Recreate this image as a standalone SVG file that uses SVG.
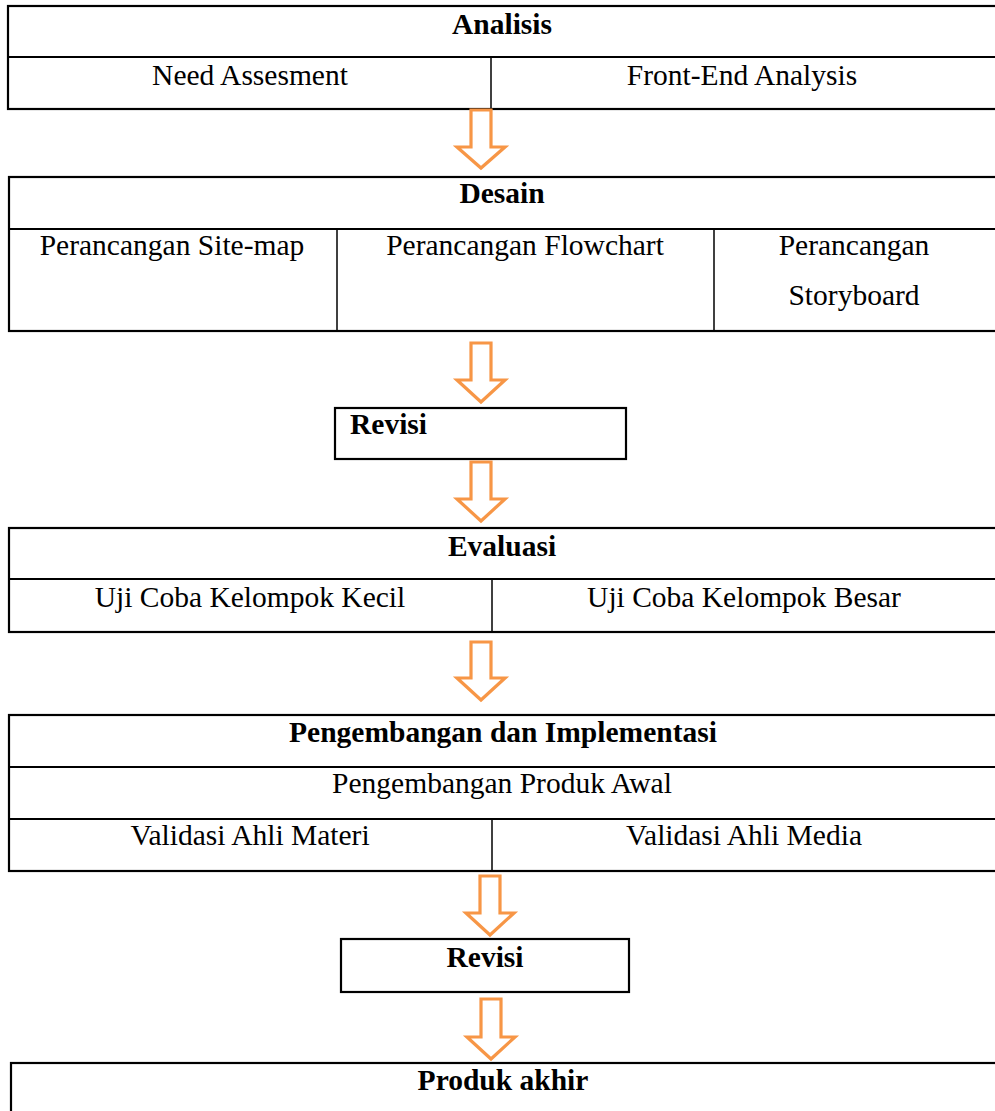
<svg xmlns="http://www.w3.org/2000/svg" width="995" height="1111" viewBox="0 0 995 1111">
<style>
.box{fill:#fff;stroke:#000;stroke-width:2.2}
.ln{stroke:#000;stroke-width:2.2;fill:none}
.vl{stroke:#000;stroke-width:1.5;fill:none}
.t{font-family:"Liberation Serif","Times New Roman",serif;font-size:29.5px;fill:#000;text-anchor:middle}
.b{font-weight:bold}
.arr{fill:#fff;stroke:#F79646;stroke-width:3.2;stroke-linejoin:miter}
</style>
<rect width="995" height="1111" fill="#fff"/>
<g id="analisis">
<rect class="box" x="8" y="6" width="1000" height="103"/>
<line class="ln" x1="8" y1="57" x2="1000" y2="57"/>
<line class="vl" x1="491" y1="57" x2="491" y2="109"/>
<text class="t b" x="502" y="34">Analisis</text>
<text class="t" x="250" y="85">Need Assesment</text>
<text class="t" x="742" y="85">Front-End Analysis</text>
</g>
<g id="desain">
<rect class="box" x="9" y="177" width="1000" height="154"/>
<line class="ln" x1="9" y1="229" x2="1000" y2="229"/>
<line class="vl" x1="337" y1="229" x2="337" y2="331"/>
<line class="vl" x1="714" y1="229" x2="714" y2="331"/>
<text class="t b" x="502" y="203">Desain</text>
<text class="t" x="172" y="255">Perancangan Site-map</text>
<text class="t" x="525" y="255">Perancangan Flowchart</text>
<text class="t" x="854" y="255">Perancangan</text>
<text class="t" x="854" y="305">Storyboard</text>
</g>
<g id="revisi1">
<rect class="box" x="335" y="408" width="291" height="51"/>
<text class="t b" x="350" y="434" style="text-anchor:start">Revisi</text>
</g>
<g id="evaluasi">
<rect class="box" x="9" y="528" width="1000" height="104"/>
<line class="ln" x1="9" y1="579" x2="1000" y2="579"/>
<line class="vl" x1="492" y1="579" x2="492" y2="632"/>
<text class="t b" x="502" y="556">Evaluasi</text>
<text class="t" x="250" y="607">Uji Coba Kelompok Kecil</text>
<text class="t" x="744" y="607">Uji Coba Kelompok Besar</text>
</g>
<g id="pengembangan">
<rect class="box" x="9" y="715" width="1000" height="156"/>
<line class="ln" x1="9" y1="767" x2="1000" y2="767"/>
<line class="ln" x1="9" y1="819" x2="1000" y2="819"/>
<line class="vl" x1="492" y1="819" x2="492" y2="871"/>
<text class="t b" x="503" y="742">Pengembangan dan Implementasi</text>
<text class="t" x="502" y="793">Pengembangan Produk Awal</text>
<text class="t" x="250" y="845">Validasi Ahli Materi</text>
<text class="t" x="744" y="845">Validasi Ahli Media</text>
</g>
<g id="revisi2">
<rect class="box" x="341" y="939" width="288" height="53"/>
<text class="t b" x="485" y="967">Revisi</text>
</g>
<g id="produk">
<rect class="box" x="11" y="1063" width="1000" height="60"/>
<text class="t b" x="503" y="1090">Produk akhir</text>
</g>
<g id="connectors">
<path class="arr" d="M471,110 L491,110 L491,147 L505,147 L481,168 L457,147 L471,147 Z"/>
<path class="arr" d="M471,343 L491,343 L491,380 L505,380 L481,402 L457,380 L471,380 Z"/>
<path class="arr" d="M471,462 L491,462 L491,499 L505,499 L481,521 L457,499 L471,499 Z"/>
<path class="arr" d="M471,642 L491,642 L491,678 L505,678 L481,700 L457,678 L471,678 Z"/>
<path class="arr" d="M480,876 L500,876 L500,913 L514,913 L490,935 L466,913 L480,913 Z"/>
<path class="arr" d="M481,999 L501,999 L501,1037 L515,1037 L491,1059 L467,1037 L481,1037 Z"/>
</g>
</svg>
